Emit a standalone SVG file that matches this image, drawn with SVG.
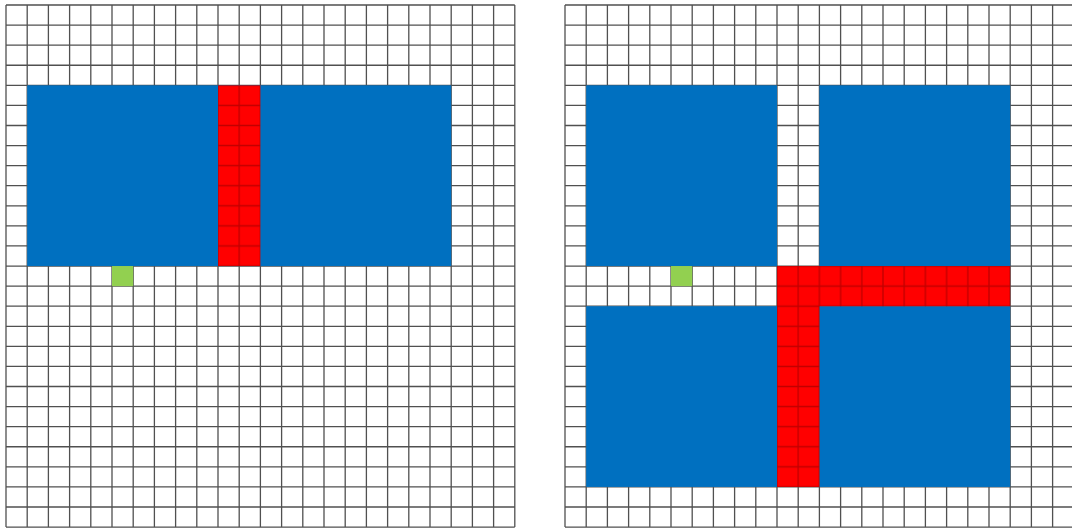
<svg xmlns="http://www.w3.org/2000/svg" width="1072" height="529" viewBox="0 0 1072 529">
<style>
.grid{fill:none;stroke:#505050;stroke-width:1.3}
.blue{fill:#0070c0}
.green{fill:#92d050}
</style>
<defs>
<pattern id="redL" patternUnits="userSpaceOnUse" x="16.6" y="15.04" width="21.2" height="20.08">
<rect width="21.2" height="20.08" fill="#ff0000"/>
<path d="M10.6 0V20.08M0 10.04H21.2" stroke="#c00000" stroke-width="1.3" fill="none"/>
</pattern>
<pattern id="redR" patternUnits="userSpaceOnUse" x="575.6" y="15.04" width="21.2" height="20.08">
<rect width="21.2" height="20.08" fill="#ff0000"/>
<path d="M10.6 0V20.08M0 10.04H21.2" stroke="#c00000" stroke-width="1.3" fill="none"/>
</pattern>
</defs>
<rect width="1072" height="529" fill="#ffffff"/>
<g id="left-panel">
<path class="grid" d="M6 5V527.08M27.2 5V527.08M48.4 5V527.08M69.6 5V527.08M90.8 5V527.08M112 5V527.08M133.2 5V527.08M154.4 5V527.08M175.6 5V527.08M196.8 5V527.08M218 5V527.08M239.2 5V527.08M260.4 5V527.08M281.6 5V527.08M302.8 5V527.08M324 5V527.08M345.2 5V527.08M366.4 5V527.08M387.6 5V527.08M408.8 5V527.08M430 5V527.08M451.2 5V527.08M472.4 5V527.08M493.6 5V527.08M514.8 5V527.08
M6 5H514.8M6 25.08H514.8M6 45.16H514.8M6 65.24H514.8M6 85.32H514.8M6 105.4H514.8M6 125.48H514.8M6 145.56H514.8M6 165.64H514.8M6 185.72H514.8M6 205.8H514.8M6 225.88H514.8M6 245.96H514.8M6 266.04H514.8M6 286.12H514.8M6 306.2H514.8M6 326.28H514.8M6 346.36H514.8M6 366.44H514.8M6 386.52H514.8M6 406.6H514.8M6 426.68H514.8M6 446.76H514.8M6 466.84H514.8M6 486.92H514.8M6 507H514.8M6 527.08H514.8"/>
<rect id="left-blue" class="blue" x="27.2" y="85.32" width="424" height="180.72"/>
<rect id="left-red" fill="url(#redL)" x="218" y="85.32" width="42.4" height="180.72"/>
<rect id="left-green" class="green" x="112" y="266.04" width="21.2" height="20.08"/>
</g>
<g id="right-panel">
<path class="grid" d="M565 5V527.08M586.2 5V527.08M607.4 5V527.08M628.6 5V527.08M649.8 5V527.08M671 5V527.08M692.2 5V527.08M713.4 5V527.08M734.6 5V527.08M755.8 5V527.08M777 5V527.08M798.2 5V527.08M819.4 5V527.08M840.6 5V527.08M861.8 5V527.08M883 5V527.08M904.2 5V527.08M925.4 5V527.08M946.6 5V527.08M967.8 5V527.08M989 5V527.08M1010.2 5V527.08M1031.4 5V527.08M1052.6 5V527.08M1073.8 5V527.08
M565 5H1073.8M565 25.08H1073.8M565 45.16H1073.8M565 65.24H1073.8M565 85.32H1073.8M565 105.4H1073.8M565 125.48H1073.8M565 145.56H1073.8M565 165.64H1073.8M565 185.72H1073.8M565 205.8H1073.8M565 225.88H1073.8M565 245.96H1073.8M565 266.04H1073.8M565 286.12H1073.8M565 306.2H1073.8M565 326.28H1073.8M565 346.36H1073.8M565 366.44H1073.8M565 386.52H1073.8M565 406.6H1073.8M565 426.68H1073.8M565 446.76H1073.8M565 466.84H1073.8M565 486.92H1073.8M565 507H1073.8M565 527.08H1073.8"/>
<rect id="right-blue-tl" class="blue" x="586.2" y="85.32" width="190.8" height="180.72"/>
<rect id="right-blue-tr" class="blue" x="819.4" y="85.32" width="190.8" height="180.72"/>
<rect id="right-blue-bl" class="blue" x="586.2" y="306.2" width="190.8" height="180.72"/>
<rect id="right-blue-br" class="blue" x="819.4" y="306.2" width="190.8" height="180.72"/>
<path id="right-red" fill="url(#redR)" d="M777 266.04H1010.2V306.2H819.4V486.92H777Z"/>
<rect id="right-green" class="green" x="671" y="266.04" width="21.2" height="20.08"/>
</g>
</svg>
